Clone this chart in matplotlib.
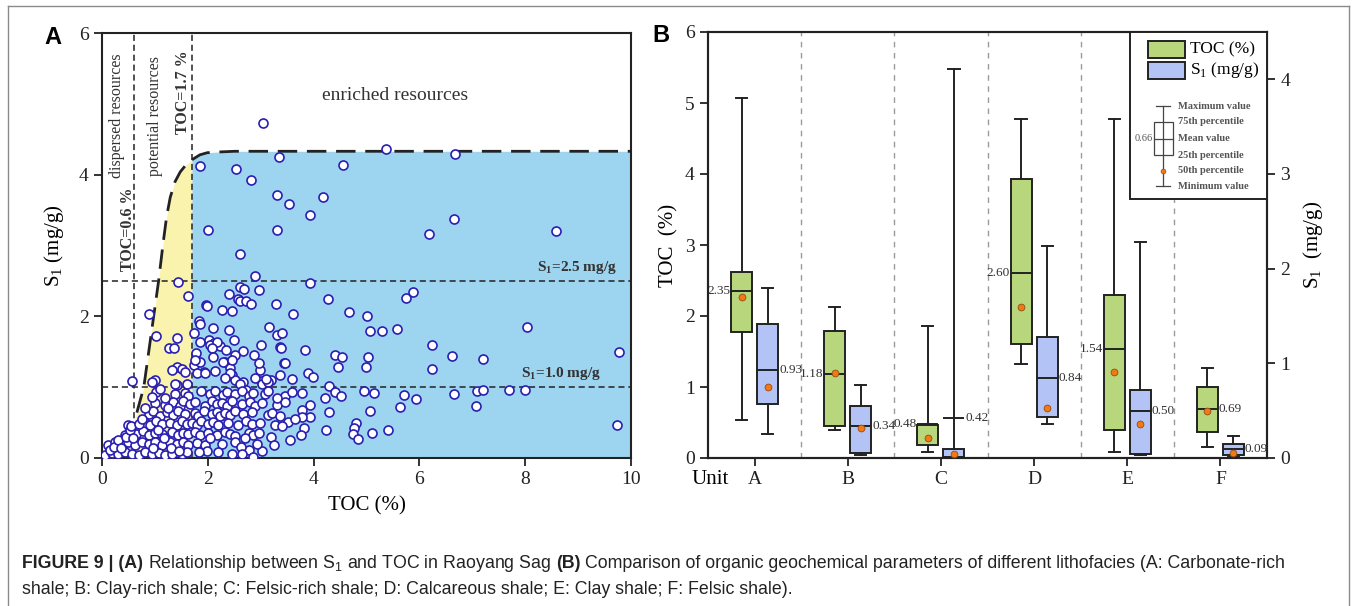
import numpy as np
import matplotlib
matplotlib.use("Agg")
import matplotlib.pyplot as plt
from matplotlib.patches import Rectangle
from matplotlib.lines import Line2D

plt.rcParams['font.family'] = ['Liberation Serif', 'DejaVu Serif']
plt.rcParams['mathtext.fontset'] = 'custom'
plt.rcParams['mathtext.rm'] = 'Liberation Serif'

# ----------------- PANEL A DATA -----------------
# (TOC %, S1 mg/g)
points = [
    (3.04, 4.73), (3.35, 4.25), (5.36, 4.36), (6.67, 4.29), (1.85, 4.12), (2.53, 4.08), (2.81, 3.92),
    (4.56, 4.13), (3.30, 3.71), (3.53, 3.58), (4.18, 3.69), (3.94, 3.43), (2.00, 3.22), (3.30, 3.22),
    (6.66, 3.37), (6.19, 3.16), (8.58, 3.21), (2.61, 2.88), (2.90, 2.57), (3.94, 2.47), (1.44, 2.49),
    (1.62, 2.29), (2.60, 2.42), (2.69, 2.39), (2.96, 2.37), (2.41, 2.32), (2.58, 2.24), (2.61, 2.21),
    (2.73, 2.22), (2.81, 2.18), (1.96, 2.16), (1.99, 2.15), (3.28, 2.18), (4.28, 2.25), (5.75, 2.26),
    (5.88, 2.34), (0.88, 2.04), (2.26, 2.09), (2.45, 2.08), (3.62, 2.03), (4.67, 2.06), (5.01, 2.00),
    (1.84, 1.93), (1.85, 1.89), (2.09, 1.83), (2.40, 1.81), (3.16, 1.85), (1.74, 1.77), (3.31, 1.73),
    (3.41, 1.76), (5.07, 1.80), (5.29, 1.79), (5.57, 1.82), (8.04, 1.85), (1.03, 1.72), (1.41, 1.70),
    (1.27, 1.56), (1.37, 1.56), (1.85, 1.64), (2.03, 1.67), (2.50, 1.66), (3.01, 1.60), (3.37, 1.57),
    (3.84, 1.53), (2.12, 1.63), (2.23, 1.58), (2.04, 1.59), (6.23, 1.60), (9.78, 1.50), (4.40, 1.45),
    (4.54, 1.42), (4.47, 1.28), (5.02, 1.42), (4.99, 1.28), (6.24, 1.26), (6.62, 1.44), (7.21, 1.40),
    (3.90, 1.20), (3.98, 1.15),
    (3.38, 1.56), (3.44, 1.34), (3.36, 1.17), (3.19, 1.10), (3.01, 1.09), (2.89, 1.13), (2.99, 1.24),
    (2.97, 1.34), (2.88, 1.46), (2.67, 1.51), (2.51, 1.46), (2.34, 1.52), (2.17, 1.64), (1.78, 1.48),
    (1.73, 1.31), (1.85, 1.36), (1.93, 1.22), (2.14, 1.23), (2.33, 1.35), (2.42, 1.27), (2.45, 1.17),
    (2.51, 1.10), (2.67, 1.08), (2.73, 0.96), (1.41, 1.29), (1.32, 1.24), (1.51, 1.25), (1.00, 1.10),
    (0.94, 1.08), (0.56, 1.09), (1.41, 1.03), (1.38, 1.05), (1.60, 1.05), (1.57, 1.22), (1.76, 1.38),
    (1.80, 1.20), (1.95, 1.20), (2.07, 1.55), (2.10, 1.43), (2.29, 1.36), (2.45, 1.39), (3.46, 1.34),
    (3.59, 1.12), (2.42, 1.20), (2.33, 1.13), (2.61, 1.05), (3.02, 1.05), (3.14, 1.08), (3.10, 1.11),
    (3.79, 0.92), (4.29, 1.02), (4.21, 0.85), (4.40, 0.93), (4.52, 0.88), (4.95, 0.94), (5.14, 0.92),
    (5.70, 0.89), (5.94, 0.83), (6.65, 0.90), (7.09, 0.95), (7.21, 0.96), (7.70, 0.96), (7.99, 0.96),
    (3.94, 0.75), (3.78, 0.68), (4.30, 0.65), (3.93, 0.58), (3.78, 0.58), (5.07, 0.67), (5.63, 0.72),
    (7.07, 0.74), (3.82, 0.42), (4.23, 0.39), (4.81, 0.50), (4.76, 0.43), (4.75, 0.34), (4.83, 0.27),
    (5.11, 0.36), (5.40, 0.39), (9.73, 0.46), (3.76, 0.32),
    (1.03, 0.93), (1.38, 0.90), (1.57, 0.92), (1.62, 0.88), (1.88, 0.94), (2.04, 0.90), (2.14, 0.95),
    (2.29, 0.89), (2.36, 0.93), (2.51, 0.90), (2.64, 0.94), (2.77, 0.88), (2.86, 0.92), (3.08, 0.90),
    (3.14, 0.95), (3.46, 0.88), (3.59, 0.93),
    (1.00, 0.78), (1.19, 0.75), (1.35, 0.79), (1.47, 0.74), (1.54, 0.80), (1.66, 0.76), (1.76, 0.79),
    (1.95, 0.74), (2.07, 0.80), (2.17, 0.76), (2.26, 0.78), (2.36, 0.73), (2.45, 0.80), (2.64, 0.76),
    (2.80, 0.79), (2.89, 0.73), (3.02, 0.77), (3.30, 0.75), (3.46, 0.79),
    (0.88, 0.62), (0.97, 0.66), (1.10, 0.60), (1.22, 0.65), (1.35, 0.61), (1.44, 0.66), (1.57, 0.62),
    (1.76, 0.64), (1.82, 0.60), (1.92, 0.66), (2.07, 0.62), (2.17, 0.65), (2.23, 0.60), (2.33, 0.64),
    (2.42, 0.61), (2.51, 0.66), (2.67, 0.62), (2.83, 0.65), (3.14, 0.61), (3.21, 0.64), (3.36, 0.60),
    (0.50, 0.46), (0.81, 0.50), (0.91, 0.47), (1.03, 0.52), (1.13, 0.48), (1.29, 0.50), (1.41, 0.46),
    (1.51, 0.52), (1.60, 0.48), (1.70, 0.50), (1.79, 0.47), (1.88, 0.52), (2.01, 0.48), (2.10, 0.51),
    (2.20, 0.46), (2.39, 0.50), (2.58, 0.47), (2.73, 0.52), (2.83, 0.48), (2.99, 0.50), (3.27, 0.47),
    (3.52, 0.51),
    (0.43, 0.33), (0.56, 0.37), (0.65, 0.34), (0.78, 0.38), (0.88, 0.33), (1.00, 0.36), (1.13, 0.34),
    (1.32, 0.37), (1.44, 0.33), (1.54, 0.36), (1.63, 0.34), (1.76, 0.37), (1.85, 0.32), (2.01, 0.36),
    (2.17, 0.33), (2.33, 0.37), (2.42, 0.34), (2.51, 0.31), (2.77, 0.36), (2.86, 0.33), (2.96, 0.35),
    (0.12, 0.18), (0.25, 0.22), (0.40, 0.20), (0.50, 0.23), (0.62, 0.19), (0.75, 0.22), (0.88, 0.20),
    (1.00, 0.23), (1.13, 0.19), (1.29, 0.22), (1.41, 0.20), (1.54, 0.23), (1.63, 0.19), (1.79, 0.21),
    (1.95, 0.18), (2.26, 0.20), (2.51, 0.22), (2.77, 0.12), (3.02, 0.10),
    (0.06, 0.04), (0.18, 0.07), (0.31, 0.05), (0.43, 0.08), (0.56, 0.06), (0.69, 0.04), (0.81, 0.08),
    (0.94, 0.05), (1.07, 0.07), (1.19, 0.04), (1.32, 0.06), (1.51, 0.05), (1.60, 0.08),
    (0.15, 0.12), (0.22, 0.16), (0.30, 0.26), (0.35, 0.14), (0.46, 0.30), (0.52, 0.40), (0.55, 0.45),
    (0.58, 0.28), (0.70, 0.48), (0.75, 0.55), (0.82, 0.70), (0.95, 0.86), (1.10, 0.97), (1.20, 0.85),
    (1.25, 0.70), (1.05, 0.40), (1.18, 0.28), (1.30, 0.14), (1.45, 0.10), (0.97, 0.14),
    (1.98, 0.10), (2.20, 0.08), (2.45, 0.06), (2.62, 0.15), (3.20, 0.30), (3.40, 0.45), (3.55, 0.25),
    (3.65, 0.55), (3.30, 0.85), (2.05, 0.28), (2.70, 0.28), (2.93, 0.20), (3.25, 0.18), (2.85, 0.02),
    (2.65, 0.05), (1.84, 0.08),
]
toc = np.array([p[0] for p in points])
s1 = np.array([p[1] for p in points])

# dashed envelope of the resource classes
bound_toc = [0, 0.6, 0.79, 1.07, 1.15, 1.22, 1.29, 1.38, 1.48, 1.60, 1.70, 1.85, 1.99, 2.2, 2.5, 10]
bound_s1 = [0, 0.48, 1.0, 2.5, 3.0, 3.4, 3.68, 3.90, 4.04, 4.15, 4.21, 4.28, 4.31, 4.32, 4.33, 4.33]
toc_cuts = [0.6, 1.7]
s1_cuts = [1.0, 2.5]

# ----------------- PANEL B DATA -----------------
units = ['A', 'B', 'C', 'D', 'E', 'F']
toc_min = [0.54, 0.40, 0.08, 1.33, 0.08, 0.15]
toc_q1 = [1.78, 0.45, 0.19, 1.60, 0.40, 0.37]
toc_mean = [2.35, 1.18, 0.48, 2.60, 1.54, 0.69]
toc_q3 = [2.62, 1.79, 0.46, 3.93, 2.30, 1.00]
toc_max = [5.07, 2.12, 1.86, 4.77, 4.77, 1.27]
toc_p50 = [2.27, 1.20, 0.28, 2.13, 1.21, 0.66]

s1_min = [0.25, 0.035, 0.0, 0.355, 0.03, 0.01]
s1_q1 = [0.57, 0.05, 0.01, 0.43, 0.046, 0.03]
s1_mean = [0.93, 0.34, 0.42, 0.84, 0.50, 0.09]
s1_q3 = [1.42, 0.55, 0.09, 1.28, 0.72, 0.15]
s1_max = [1.80, 0.77, 4.11, 2.24, 2.28, 0.23]
s1_p50 = [0.75, 0.32, 0.04, 0.53, 0.355, 0.05]

toc_label_side = ['l', 'l', 'l', 'l', 'l', 'r']

green = '#b8d77c'
blue = '#b3c3f6'
dark = '#222222'
orange = '#f07a14'

W, H = 1356, 606
fig = plt.figure(figsize=(W / 100, H / 100), dpi=100)

# ----------------- PANEL A -----------------
axA = fig.add_axes([102 / W, 1 - 458 / H, 529 / W, 425 / H])
xx = np.linspace(0, 10, 2001)
yy = np.interp(xx, bound_toc, bound_s1)
axA.fill_between(xx, 0, yy, where=xx <= toc_cuts[0], color='#c9c9c9', lw=0, zorder=0)
axA.fill_between(xx, 0, yy, where=(xx >= toc_cuts[0]) & (xx <= toc_cuts[1]), color='#faf3ad', lw=0, zorder=0)
axA.fill_between(xx, 0, yy, where=xx >= toc_cuts[1], color='#9dd5f1', lw=0, zorder=0)
axA.plot(bound_toc, bound_s1, color=dark, lw=2.0, dashes=(7, 3.5), zorder=2)
for c in toc_cuts:
    axA.axvline(c, color=dark, lw=1.1, dashes=(4, 2.5), zorder=1)
for c in s1_cuts:
    axA.axhline(c, color=dark, lw=1.1, dashes=(4, 2.5), zorder=1)
axA.scatter(toc, s1, s=42, facecolor='white', edgecolor='#2a1fb0', linewidth=1.2, zorder=3)

axA.set_xlim(0, 10)
axA.set_ylim(0, 6)
axA.set_xticks([0, 2, 4, 6, 8, 10])
axA.set_yticks([0, 2, 4, 6])
axA.set_xlabel('TOC (%)', fontsize=15, labelpad=6)
axA.set_ylabel('S$_\\mathregular{1}$ (mg/g)', fontsize=15, labelpad=9)

axA.text(5.54, 5.12, 'enriched resources', fontsize=14, ha='center', va='center', color='#333')
axA.text(9.74, 2.57, 'S$_\\mathregular{1}$=2.5 mg/g', fontsize=11, fontweight='bold', ha='right', va='bottom', color='#333')
axA.text(9.43, 1.07, 'S$_\\mathregular{1}$=1.0 mg/g', fontsize=11, fontweight='bold', ha='right', va='bottom', color='#333')
axA.text(0.49, 3.23, 'TOC=0.6 %', rotation=90, fontsize=11.5, fontweight='bold', ha='center', va='center', color='#333')
axA.text(0.28, 4.83, 'dispersed resources', rotation=90, fontsize=11.5, ha='center', va='center', color='#333')
axA.text(1.00, 4.83, 'potential resources', rotation=90, fontsize=11.5, ha='center', va='center', color='#333')
axA.text(1.53, 5.17, 'TOC=1.7 %', rotation=90, fontsize=11.5, fontweight='bold', ha='center', va='center', color='#333')

# ----------------- PANEL B -----------------
axB = fig.add_axes([708 / W, 1 - 458 / H, 559 / W, 426 / H])
axB2 = axB.twinx()
pos = np.arange(1, len(units) + 1)
off = 0.14
bw = 0.225

for sep in pos[:-1] + 0.5:
    axB.axvline(sep, color='#9a9a9a', lw=1.0, dashes=(4, 4), zorder=0)

def boxes(ax, positions, lo, q1, mid, q3, hi, color):
    stats = [dict(whislo=a, q1=b, med=c, q3=d, whishi=e) for a, b, c, d, e in zip(lo, q1, mid, q3, hi)]
    ax.bxp(stats, positions=positions, widths=bw, capwidths=0.12, showfliers=False,
           patch_artist=True, manage_ticks=False,
           boxprops=dict(facecolor=color, edgecolor=dark, linewidth=1.4),
           medianprops=dict(color=dark, linewidth=1.4),
           whiskerprops=dict(color=dark, linewidth=1.4),
           capprops=dict(color=dark, linewidth=1.4))

boxes(axB, pos - off, toc_min, toc_q1, toc_mean, toc_q3, toc_max, green)
boxes(axB2, pos + off, s1_min, s1_q1, s1_mean, s1_q3, s1_max, blue)
axB.scatter(pos - off, toc_p50, s=24, color=orange, edgecolor='#9a4a10', linewidth=0.6, zorder=5)
axB2.scatter(pos + off, s1_p50, s=24, color=orange, edgecolor='#9a4a10', linewidth=0.6, zorder=5)

for p, m, side in zip(pos - off, toc_mean, toc_label_side):
    if side == 'l':
        axB.text(p - bw / 2 - 0.01, m, f'{m:.2f}', fontsize=9.5, ha='right', va='center', color='#333')
    else:
        axB.text(p + bw / 2 + 0.01, m, f'{m:.2f}', fontsize=9.5, ha='left', va='center', color='#333')
for p, m in zip(pos + off, s1_mean):
    axB2.text(p + bw / 2 + 0.01, m, f'{m:.2f}', fontsize=9.5, ha='left', va='center', color='#333')

axB.set_xlim(0.5, len(units) + 0.5)
axB.set_ylim(0, 6)
axB2.set_ylim(0, 4.5)
axB.set_xticks(pos)
axB.set_xticklabels(units)
axB.set_yticks(range(0, 7))
axB2.set_yticks(range(0, 5))
axB.text(0.52, -0.028, 'Unit', transform=axB.get_xaxis_transform(), fontsize=15, ha='center', va='top')
axB.set_ylabel('TOC  (%)', fontsize=15, labelpad=5)
axB2.set_ylabel('S$_\\mathregular{1}$  (mg/g)', fontsize=15, labelpad=8)

# legend block
T = axB2.transAxes
axB2.add_patch(Rectangle((0.755, 0.608), 0.245, 0.392, transform=T, facecolor='white', edgecolor=dark, lw=1.4, zorder=10))
axB2.add_patch(Rectangle((0.787, 0.939), 0.066, 0.040, transform=T, facecolor=green, edgecolor=dark, lw=1.4, zorder=11))
axB2.add_patch(Rectangle((0.787, 0.890), 0.066, 0.040, transform=T, facecolor=blue, edgecolor=dark, lw=1.4, zorder=11))
axB2.text(0.862, 0.959, 'TOC (%)', transform=T, fontsize=12.5, va='center', zorder=12)
axB2.text(0.862, 0.910, 'S$_\\mathregular{1}$ (mg/g)', transform=T, fontsize=12.5, va='center', zorder=12)
cx = 0.814
lk = dict(transform=T, color='#444', lw=0.9, zorder=11)
axB2.add_line(Line2D([cx, cx], [0.638, 0.826], **lk))
axB2.add_line(Line2D([cx - 0.012, cx + 0.012], [0.826, 0.826], **lk))
axB2.add_line(Line2D([cx - 0.012, cx + 0.012], [0.638, 0.638], **lk))
axB2.add_patch(Rectangle((0.798, 0.711), 0.034, 0.078, transform=T, facecolor='none', edgecolor='#444', lw=0.9, zorder=11))
axB2.add_line(Line2D([0.798, 0.832], [0.749, 0.749], **lk))
axB2.scatter([cx], [0.674], s=12, color=orange, edgecolor='#9a4a10', linewidth=0.5, transform=T, zorder=12, clip_on=False)
for yv, lab in zip([0.826, 0.789, 0.749, 0.711, 0.674, 0.638],
                   ['Maximum value', '75th percentile', 'Mean value', '25th percentile', '50th percentile', 'Minimum value']):
    axB2.text(0.841, yv, lab, transform=T, fontsize=7.5, fontweight='bold', color='#555', va='center', zorder=12)
axB2.text(0.796, 0.749, '0.66', transform=T, fontsize=7.5, color='#555', ha='right', va='center', zorder=12)

# ----------------- COMMON STYLE -----------------
for ax in (axA, axB, axB2):
    for sp in ax.spines.values():
        sp.set_linewidth(1.5)
        sp.set_color(dark)
    ax.tick_params(direction='out', length=6, width=1.3, labelsize=14, colors=dark)

fig.text(53 / W, 1 - 37 / H, 'A', fontsize=17, fontweight='bold', family='Liberation Sans', ha='center', va='center')
fig.text(661 / W, 1 - 35 / H, 'B', fontsize=17, fontweight='bold', family='Liberation Sans', ha='center', va='center')

# outer frame
for xs, ys in [([8, 8], [6, 606]), ([8, 1349], [6, 6]), ([1349, 1349], [6, 606])]:
    fig.add_artist(Line2D([x / W for x in xs], [1 - y / H for y in ys], color='#8a8a8a', lw=1.0))

# caption
r = fig.canvas.get_renderer()
cfs = 12.8
cap_font = dict(fontsize=cfs, family=['Liberation Sans', 'DejaVu Sans'], va='center', color='#222')
gap = cfs * 0.278 / 72 * 100 / W
x0 = 22 / W
line1 = [('FIGURE 9 | (A)', 'bold'), ('Relationship between S$_\\mathregular{1}$ and TOC in Raoyang Sag', 'normal'),
         ('(B)', 'bold'), ('Comparison of organic geochemical parameters of different lithofacies (A: Carbonate-rich', 'normal')]
x = x0
for s, wgt in line1:
    t = fig.text(x, 1 - 563 / H, s, fontweight=wgt, **cap_font)
    x += t.get_window_extent(renderer=r).width / W + gap
fig.text(x0, 1 - 590 / H, 'shale; B: Clay-rich shale; C: Felsic-rich shale; D: Calcareous shale; E: Clay shale; F: Felsic shale).', **cap_font)

fig.savefig('out.png', dpi=100)
